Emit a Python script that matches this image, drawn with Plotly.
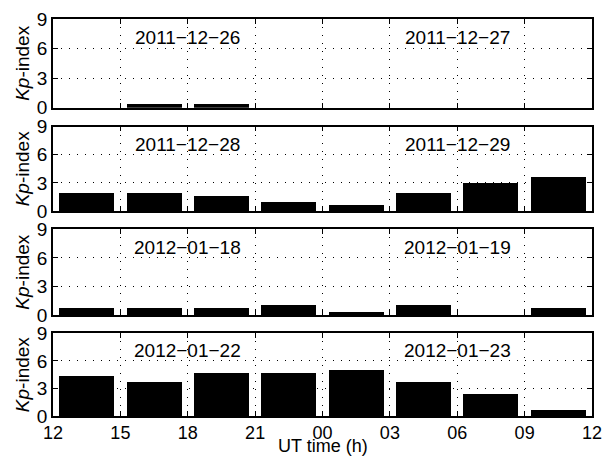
import plotly.graph_objects as go

# 3-hourly Kp index, 12 UT to 12 UT of the following day
hour_labels = ["12", "15", "18", "21", "00", "03", "06", "09", "12"]
dates = [("2011-12-26", "2011-12-27"),
         ("2011-12-28", "2011-12-29"),
         ("2012-01-18", "2012-01-19"),
         ("2012-01-22", "2012-01-23")]
kp_dec26 = [0, 0.33, 0.33, 0, 0, 0, 0, 0]
kp_dec28 = [2.0, 2.0, 1.67, 1.0, 0.67, 2.0, 3.0, 3.67]
kp_jan18 = [0.67, 0.67, 0.67, 1.0, 0.33, 1.0, 0, 0.67]
kp_jan22 = [4.33, 3.67, 4.67, 4.67, 5.0, 3.67, 2.33, 0.67]
series = [kp_dec26, kp_dec28, kp_jan18, kp_jan22]

step = 3
tick_vals = [i * step for i in range(len(hour_labels))]
centers = [i * step + step / 2 for i in range(len(kp_dec26))]

FONT = "Liberation Sans"
FS = 19
W, H = 612, 458
ML, MR, MT, MB = 53, 20, 19, 42
plot_h = H - MT - MB

# panel edges in pixels (top, bottom)
panels_px = [(19, 107.7), (126.7, 211), (229.3, 315), (333.3, 416)]


def clamp(v):
    return min(1.0, max(0.0, v))


def paper_y(px):
    return (H - MB - px) / plot_h


domains = [(clamp(paper_y(b)), clamp(paper_y(t))) for t, b in panels_px]

fig = go.Figure()
layout = dict(
    width=W, height=H,
    margin=dict(l=ML, r=MR, t=MT, b=MB, autoexpand=False),
    paper_bgcolor="white", plot_bgcolor="white",
    showlegend=False,
    font=dict(family=FONT, size=FS, color="black"),
    bargap=0,
)

annotations = []
for k, vals in enumerate(series):
    n = k + 1
    xa = "x" if n == 1 else f"x{n}"
    ya = "y" if n == 1 else f"y{n}"
    fig.add_trace(go.Bar(
        x=centers, y=vals, width=2.45,
        marker=dict(color="black", line=dict(width=0)),
        xaxis=xa, yaxis=ya, hoverinfo="x+y",
    ))
    axis_common = dict(
        showline=True, linecolor="black", linewidth=1.5, mirror="ticks",
        ticks="inside", ticklen=5, tickwidth=1, tickcolor="black",
        showgrid=True, gridcolor="black", gridwidth=1.3, griddash="1px,7px",
        zeroline=False, automargin=False,
    )
    xkey = "xaxis" if n == 1 else f"xaxis{n}"
    ykey = "yaxis" if n == 1 else f"yaxis{n}"
    layout[xkey] = dict(
        axis_common, domain=[0, 1], range=[0, 24], anchor=ya,
        tickvals=tick_vals, ticktext=hour_labels,
        showticklabels=(n == len(series)),
        tickfont=dict(size=18),
    )
    layout[ykey] = dict(
        axis_common, domain=list(domains[k]), range=[0, 9], anchor=xa,
        tickvals=[0, 3, 6, 9], tickfont=dict(size=FS),
        title=dict(text="<i>Kp</i>-index", standoff=2, font=dict(size=FS)),
    )
    d1, d2 = dates[k]
    for xpos, txt in ((6, d1), (18, d2)):
        annotations.append(dict(
            x=xpos, y=7.1, xref=xa, yref=ya, text=txt.replace("-", "\u2212"),
            showarrow=False, font=dict(size=FS, family=FONT),
            xanchor="center", yanchor="middle",
        ))

# shared time-axis label below the bottom panel
annotations.append(dict(
    x=0.5, y=paper_y(458), xref="paper", yref="paper", text="UT time (h)",
    showarrow=False, font=dict(size=18, family=FONT),
    xanchor="center", yanchor="bottom",
))

layout["annotations"] = annotations
fig.update_layout(**layout)
fig.write_html("out.html")
